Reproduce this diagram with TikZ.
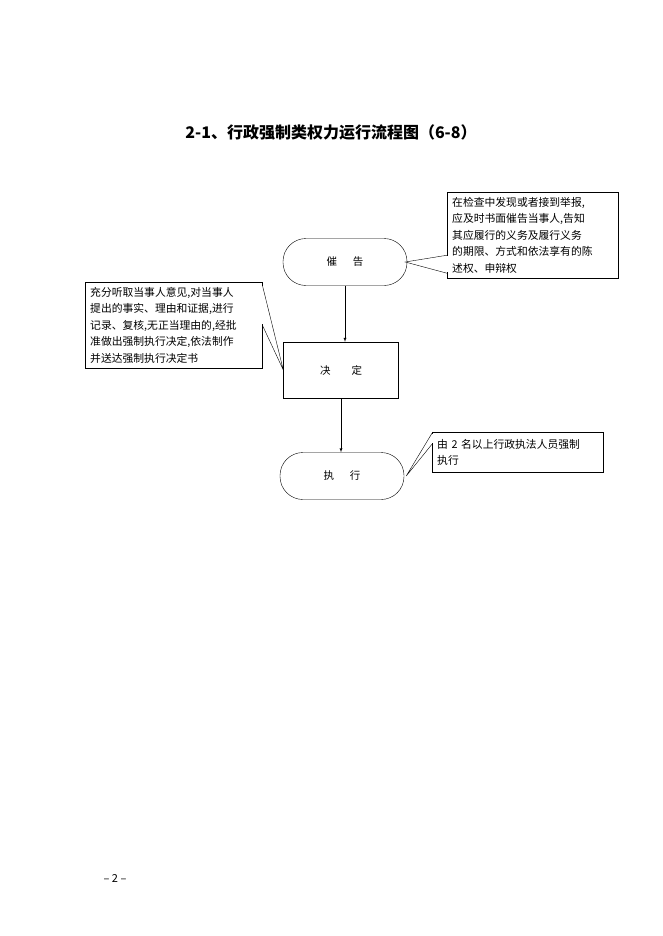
\documentclass[tikz,border=0pt]{standalone}
\usepackage{fontspec}
\setmainfont{Noto Sans CJK SC}
\usetikzlibrary{positioning}
\tikzset{
  stepround/.style={draw, rounded corners=23pt, minimum width=124pt, minimum height=47pt, font=\fontsize{10.5}{12}\selectfont},
  steprect/.style={draw, minimum width=115pt, minimum height=56pt, font=\fontsize{10.5}{12}\selectfont},
  notebox/.style={draw, fill=white, align=left, anchor=north west, inner sep=5pt, font=\fontsize{10.8}{16.5}\selectfont},
  flow/.style={->, >=latex}
}
\begin{document}
\begin{tikzpicture}[x=1pt, y=-1pt]
    \useasboundingbox (0,0) rectangle (662,936);

    % title
    \node[font=\bfseries\fontsize{16}{18}\selectfont] (title) at (331,132) {2-1、行政强制类权力运行流程图（6-8）};

    % main steps
    \node[stepround] (cuigao) at (345,262) {催\hspace{1.5em}告};
    \node[steprect]  (jueding) at (341,370) {决\hspace{2em}定};
    \node[stepround] (zhixing) at (342,476) {执\hspace{1.5em}行};

    \draw[flow] (cuigao.south) -- (cuigao.south |- jueding.north);
    \draw[flow] (jueding.south) -- (jueding.south |- zhixing.north);

    % notes
    \node[notebox, text width=161pt] (noteA) at (447,192)
        {在检查中发现或者接到举报,\\应及时书面催告当事人,告知\\其应履行的义务及履行义务\\的期限、方式和依法享有的陈\\述权、申辩权};
    \node[notebox, text width=167pt] (noteB) at (85,282)
        {充分听取当事人意见,对当事人\\提出的事实、理由和证据,进行\\记录、复核,无正当理由的,经批\\准做出强制执行决定,依法制作\\并送达强制执行决定书};
    \node[notebox, text width=161pt, minimum height=40pt] (noteC) at (432,432)
        {由 2 名以上行政执法人员强制\\执行};

    % pointers
    \coordinate (tipA) at (cuigao.east);
    \draw[white, line width=1.2pt] ([yshift=-37pt]noteA.west) -- ([yshift=-21pt]noteA.west);
    \draw ([yshift=-38pt]noteA.west) -- ([xshift=-2pt]tipA) -- ([yshift=-20pt]noteA.west);
    \coordinate (tipB) at (jueding.west);
    \draw[white, line width=1.2pt] ([yshift=1pt]noteB.east) -- ([yshift=39pt]noteB.east);
    \draw (noteB.east) -- (tipB) -- ([yshift=40pt]noteB.east);
    \coordinate (tipC) at (zhixing.east);
    \draw[white, line width=1.2pt] ([yshift=9pt]noteC.west) -- ([yshift=18pt]noteC.west);
    \draw ([yshift=8pt]noteC.west) -- ([xshift=2pt]tipC) -- ([yshift=19pt]noteC.west);

    % page number
    \node[font=\fontsize{11}{13}\selectfont] (page) at (115,878) {– 2 –};
\end{tikzpicture}
\end{document}
